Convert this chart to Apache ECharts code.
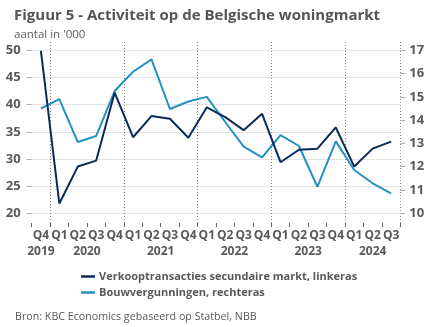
<!DOCTYPE html>
<html>
<head>
<meta charset="utf-8">
<script src="https://cdn.jsdelivr.net/npm/echarts@6/dist/echarts.min.js"></script>
<style>
  html, body { margin: 0; padding: 0; background: #fff; }
  #chart { width: 432px; height: 327px; }
</style>
</head>
<body>
<div id="chart"></div>
<script>
// Quarterly categories, Q4 2019 .. Q3 2024
const quarters = ['Q4', 'Q1', 'Q2', 'Q3', 'Q4', 'Q1', 'Q2', 'Q3', 'Q4', 'Q1',
                  'Q2', 'Q3', 'Q4', 'Q1', 'Q2', 'Q3', 'Q4', 'Q1', 'Q2', 'Q3'];
const quarterYears = [2019, 2020, 2020, 2020, 2020, 2021, 2021, 2021, 2021, 2022,
                      2022, 2022, 2022, 2023, 2023, 2023, 2023, 2024, 2024, 2024];

// Secondary-market sales transactions (left axis, thousands)
const sales = [49.9, 21.8, 28.6, 29.7, 42.2, 34.0, 37.9, 37.4, 33.9, 39.5,
               37.7, 35.3, 38.3, 29.4, 31.7, 31.9, 35.8, 28.6, 31.9, 33.2];
// Building permits (right axis, thousands)
const permits = [14.5, 14.9, 13.06, 13.32, 15.25, 16.08, 16.61, 14.48, 14.8, 15.0,
                 13.92, 12.86, 12.4, 13.36, 12.89, 11.14, 13.09, 11.86, 11.29, 10.86];

const leftTicks = { min: 20, max: 50, step: 5 };
const rightTicks = { min: 10, max: 17, step: 1 };

const seriesNames = ['Verkooptransacties secundaire markt, linkeras', 'Bouwvergunningen, rechteras'];

// Year label positions: centre of each year's quarters on the category scale
const yearList = [...new Set(quarterYears)];
const yearCentres = yearList.map(y => {
  const idx = quarterYears.map((v, i) => v === y ? i : -1).filter(i => i >= 0);
  return (idx[0] + idx[idx.length - 1]) / 2;
});

const grey = '#595959';
const font = '"Open Sans", sans-serif';

const chart = echarts.init(document.getElementById('chart'), null, { renderer: 'canvas' });

chart.setOption({
  animation: false,
  backgroundColor: '#fff',
  textStyle: { fontFamily: font },
  title: [
    {
      text: 'Figuur 5 - Activiteit op de Belgische woningmarkt',
      left: 9, top: 3,
      textStyle: { fontFamily: font, fontSize: 15, fontWeight: 'bold', color: '#555' }
    },
    {
      text: "aantal in '000",
      left: 9, top: 24,
      textStyle: { fontFamily: font, fontSize: 11.5, fontWeight: 'normal', color: grey }
    },
    {
      text: 'Bron: KBC Economics gebaseerd op Statbel, NBB',
      left: 10, top: 306,
      textStyle: { fontFamily: font, fontSize: 10.7, fontWeight: 'normal', color: grey }
    }
  ],
  legend: {
    orient: 'vertical',
    left: 76, top: 266,
    itemGap: 5,
    icon: 'rect',
    itemWidth: 14, itemHeight: 2.5,
    textStyle: { fontFamily: font, fontSize: 11, fontWeight: 'bold', color: grey, padding: [0, 0, 0, -1] },
    data: seriesNames
  },
  grid: [
    { left: 31.7, right: 31.7, top: 50.3, bottom: 113.7 },
    { left: 31.7, right: 31.7, top: 42, bottom: 100 }
  ],
  xAxis: [
    {
      // plotting axis for the two lines
      type: 'category', gridIndex: 0, data: quarters, boundaryGap: true,
      axisLine: { show: false }, axisTick: { show: false }, axisLabel: { show: false },
      splitLine: { show: false }
    },
    {
      // quarter labels, boundary ticks and year separators
      type: 'category', gridIndex: 1, data: quarters, boundaryGap: true,
      axisLine: { show: false },
      axisTick: { show: true, inside: true, length: 4, interval: 0, lineStyle: { color: '#666', width: 1 } },
      splitLine: {
        show: true,
        interval: (i) => i % 4 === 1,
        lineStyle: { color: '#8a8a8a', type: [1, 2], width: 1 }
      },
      axisLabel: {
        interval: 0, margin: 3,
        fontFamily: font, fontSize: 12, fontWeight: 'bold', color: grey
      }
    },
    {
      // year labels
      type: 'value', gridIndex: 1, min: -0.5, max: quarters.length - 0.5,
      position: 'bottom',
      axisLine: { show: false }, axisTick: { show: false }, splitLine: { show: false },
      axisLabel: {
        customValues: yearCentres,
        formatter: (v) => {
          const k = yearCentres.findIndex(c => Math.abs(c - v) < 1e-6);
          return k >= 0 ? String(yearList[k]) : '';
        },
        margin: 19,
        fontFamily: font, fontSize: 12, fontWeight: 'bold', color: grey
      }
    }
  ],
  yAxis: [
    {
      type: 'value', gridIndex: 0, position: 'left',
      min: leftTicks.min, max: leftTicks.max, interval: leftTicks.step,
      axisLine: { show: false },
      axisTick: { show: true, length: 5, lineStyle: { color: '#b0b0b0' } },
      splitLine: { show: true, lineStyle: { color: '#e3e3e3', width: 1 } },
      axisLabel: { margin: 11, fontFamily: font, fontSize: 13, fontWeight: 'bold', color: grey }
    },
    {
      type: 'value', gridIndex: 0, position: 'right',
      min: rightTicks.min, max: rightTicks.max, interval: rightTicks.step,
      axisLine: { show: false },
      axisTick: { show: true, length: 5, lineStyle: { color: '#b0b0b0' } },
      splitLine: { show: false },
      axisLabel: { margin: 9, fontFamily: font, fontSize: 13, fontWeight: 'bold', color: grey }
    },
    {
      type: 'value', gridIndex: 1, show: false, min: 0, max: 1,
      splitLine: { show: false }
    }
  ],
  series: [
    {
      name: seriesNames[0], type: 'line', xAxisIndex: 0, yAxisIndex: 0,
      data: sales, symbol: 'none', z: 3,
      itemStyle: { color: '#0b2b57' },
      lineStyle: { color: '#0b2b57', width: 2 }
    },
    {
      name: seriesNames[1], type: 'line', xAxisIndex: 0, yAxisIndex: 1,
      data: permits, symbol: 'none', z: 2,
      itemStyle: { color: '#2392c3' },
      lineStyle: { color: '#2392c3', width: 2 }
    }
  ]
});
</script>
</body>
</html>
